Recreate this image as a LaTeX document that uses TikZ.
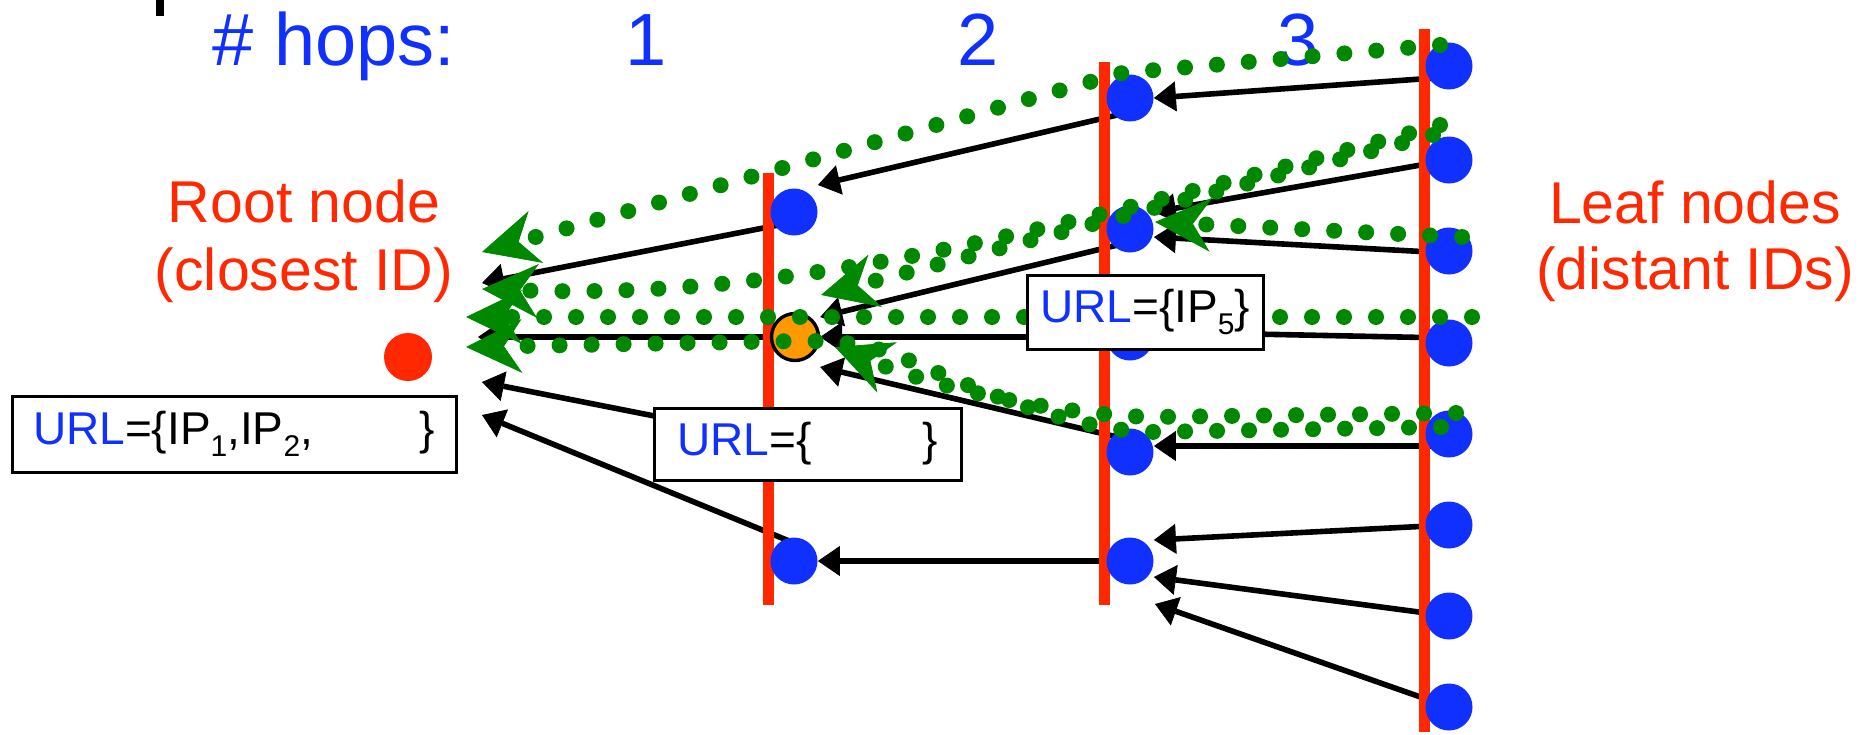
\documentclass[tikz,border=0pt]{standalone}
\usepackage{fontspec}
\setmainfont{Liberation Sans}
\usetikzlibrary{arrows.meta}
\definecolor{hopblue}{RGB}{16,48,255}
\definecolor{levelred}{RGB}{255,40,0}
\definecolor{pathgreen}{RGB}{0,136,0}
\definecolor{hitorange}{RGB}{255,153,0}
\newcommand{\urlkey}{\textcolor{hopblue}{URL}}
\newcommand{\ipsub}[1]{\raisebox{-6pt}{\fontsize{15}{15}\selectfont #1}}
\pgfdeclarelayer{edges}
\pgfdeclarelayer{levels}
\pgfsetlayers{edges,levels,main}

\begin{document}
\begin{tikzpicture}[x=0.5pt, y=-0.5pt,
  peer/.style={circle, fill=hopblue, minimum size=23.5pt, inner sep=0pt},
  hit/.style={circle, fill=hitorange, draw=black, line width=1.7pt, minimum size=23.5pt, inner sep=0pt},
  level/.style={levelred, line width=5.5pt},
  treeedge/.style={line width=2.8pt, -{Triangle[length=11pt, width=15pt, line width=0.4pt]}},
  lookup/.style={pathgreen, line width=8pt, line cap=round, dash pattern=on 0pt off 16pt,
    -{Stealth[length=28pt, width=27pt, inset=9pt, line width=0.4pt]}},
  urlbox/.style={draw=black, fill=white, line width=1.5pt, inner sep=0pt, font=\fontsize{23}{27}\selectfont},
  hops/.style={hopblue, inner sep=0pt, font=\fontsize{37}{41}\selectfont},
  side/.style={levelred, inner sep=0pt, anchor=base, font=\fontsize{29.5}{34}\selectfont}
]
\useasboundingbox (0,0) rectangle (1872,734);

% stray mark at the top edge
\fill (156,0) rectangle (164,16);

% headings
\node[hops, anchor=base west] (hopslbl) at (212,65) {\# hops:};
\node[hops, anchor=base] (hop1) at (646,65) {1};
\node[hops, anchor=base] (hop2) at (978,65) {2};
\node[hops, anchor=base] (hop3) at (1298,65) {3};
\node[side] (rootl1) at (304,222) {Root node};
\node[side] (rootl2) at (304,290) {(closest ID)};
\node[side] (leafl1) at (1695,223) {Leaf nodes};
\node[side] (leafl2) at (1695,289) {(distant IDs)};

% root
\node[circle, fill=levelred, minimum size=24pt, inner sep=0pt] (root) at (408,357) {};

% level 1
\node[peer] (c1a) at (794,212) {};
\node[hit]  (hit) at (795,337) {};
\node[peer] (c1b) at (794,561) {};
% level 2
\node[peer] (c2a) at (1130,98) {};
\node[peer] (c2b) at (1130,229) {};
\node[peer] (c2c) at (1130,337) {};
\node[peer] (c2d) at (1130,452) {};
\node[peer] (c2e) at (1130,561) {};
% level 3 (leaves)
\node[peer] (c3a) at (1449,66) {};
\node[peer] (c3b) at (1449,160) {};
\node[peer] (c3c) at (1449,251) {};
\node[peer] (c3d) at (1449,343) {};
\node[peer] (c3e) at (1449,434) {};
\node[peer] (c3f) at (1449,525) {};
\node[peer] (c3g) at (1449,616) {};
\node[peer] (c3h) at (1449,707) {};

% free ends of tree edges
\coordinate (t8) at (1155,604);
\coordinate (s16) at (766,438);
\coordinate (r1) at (482,283);
\coordinate (r2) at (478,337);
\coordinate (r3) at (482,382);
\coordinate (r4) at (482,415);

% ends of lookup paths at the root
\coordinate (g1) at (482,252);
\coordinate (g2) at (482,289);
\coordinate (g3) at (466,317);
\coordinate (g4) at (466,347);

\begin{pgfonlayer}{levels}
  \draw[level] (768,173) -- (768,605);
  \draw[level] (1104,62) -- (1104,605);
  \draw[level] (1424,29) -- (1424,732);
\end{pgfonlayer}

\begin{pgfonlayer}{edges}
  % level 3 -> level 2
  \draw[treeedge] ([yshift=-5.5pt]c3a.center) -- (c2a.east);
  \draw[treeedge] (c3b.center) -- ([yshift=8.5pt]c2b.east);
  \draw[treeedge] ([yshift=-1pt]c3c.center) -- ([yshift=-4pt]c2b.east);
  \draw[treeedge] ([yshift=2.5pt]c3d.center) -- ([yshift=2.5pt]c2c.east);
  \draw[treeedge] ([yshift=-6pt]c3e.center) -- ([yshift=3pt]c2d.east);
  \draw[treeedge] (c3f.center) -- ([yshift=10.5pt]c2e.east);
  \draw[treeedge] (c3g.center) -- ([yshift=-8pt]c2e.east);
  \draw[treeedge] (c3h.center) -- (t8);
  % level 2 -> level 1
  \draw[treeedge] ([yshift=-7pt]c2a.center) -- ([yshift=13.5pt]c1a.east);
  \draw[treeedge] ([yshift=-6.5pt]c2b.center) -- ([yshift=10pt]hit.east);
  \draw[treeedge] (c2c.center) -- (hit.east);
  \draw[treeedge] ([yshift=6pt]c2d.center) -- ([yshift=-15pt]hit.east);
  \draw[treeedge] (c2e.center) -- (c1b.east);
  % level 1 -> root
  \draw[treeedge] ([yshift=-5pt]c1a.center) -- (r1);
  \draw[treeedge] (hit.center) -- (r2);
  \draw[treeedge] (s16) -- (r3);
  \draw[treeedge] ([yshift=9pt]c1b.center) -- (r4);
\end{pgfonlayer}

% lookup paths
\draw[lookup] ([shift={(-9,-21)}]c3a.center) -- ([shift={(-8,-25)}]c2a.center) -- (g1);
\draw[lookup] ([shift={(-9,-35)}]c3b.center) .. controls (1050,230) and (800,300) .. (g2);
\draw[lookup] ([shift={(-16,-25)}]c3b.center) -- ([shift={(26,-42)}]hit.center);
\draw[lookup] ([shift={(13,-14)}]c3c.center) -- ([shift={(25,-7)}]c2b.center);
\draw[lookup] ([shift={(23,-26)}]c3d.center) -- (g3);
\draw[lookup] ([shift={(7,-21)}]c3e.center) -- (1150,417)
  .. controls (1060,414) and (950,392) .. ([shift={(40,10)}]hit.center);
\draw[lookup] ([shift={(-8,-7)}]c3e.center) -- (1150,432)
  .. controls (1080,430) and (1000,400) .. (908,360)
  .. controls (870,344) and (845,341) .. (800,341) -- (g4);

% URL boxes
\node[urlbox, minimum width=222pt, minimum height=38pt] (box1) at (234,434)
  {\hbox to 201pt{\urlkey=\{IP\ipsub{1},IP\ipsub{2},\hfill\}}};
\node[urlbox, minimum width=153.5pt, minimum height=36pt] (box2) at (807.5,444)
  {\hbox to 130pt{\urlkey=\{\hfill\}}};
\node[urlbox, minimum width=118pt, minimum height=37pt] (box3) at (1145,312)
  {\urlkey=\{IP\ipsub{5}\}};

\end{tikzpicture}
\end{document}
